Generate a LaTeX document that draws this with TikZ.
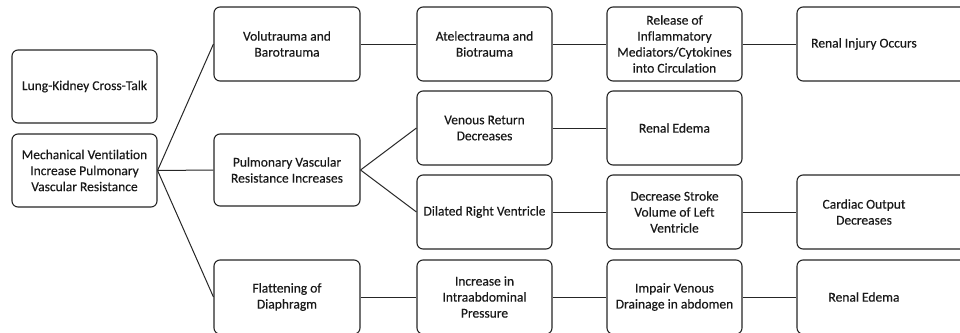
\documentclass[tikz,border=0pt]{standalone}
\usepackage{fontspec}
\setmainfont[FakeBold=0.3,Ligatures=NoCommon]{Carlito}
\begin{document}
\begin{tikzpicture}[x=1pt,y=-1pt,
  box/.style={draw=black!85, line width=1.1pt, rounded corners=6pt, fill=white, inner sep=0pt},
  txt/.style={align=center, font=\fontsize{13.5}{16}\selectfont, text=black!90, inner sep=0pt},
  link/.style={draw=black!85, line width=1pt}]
\useasboundingbox (0,0) rectangle (960,332);
\clip (0,0) rectangle (960,332);
% helper: box from x1 to x2, y1 to y2
\newcommand{\mybox}[6]{%
  \node[box, minimum width=#3-#2, minimum height=#5-#4] (#1) at ({(#2+#3)/2},{(#4+#5)/2}) {};
  \node[txt] (#1t) at ({(#2+#3)/2},{(#4+#5)/2}) {#6};}
\mybox{lk}{12}{157}{50}{123}{Lung-Kidney Cross-Talk}
\mybox{mv}{12}{157}{134}{207}{Mechanical Ventilation\\Increase Pulmonary\\Vascular Resistance}
\mybox{vb}{214}{360}{7}{81}{Volutrauma and\\Barotrauma}
\mybox{pv}{214}{360}{134}{206}{Pulmonary Vascular\\Resistance Increases}
\mybox{fd}{214}{360}{260}{334}{Flattening of\\Diaphragm}
\mybox{ab}{417}{552}{7}{81}{Atelectrauma and\\Biotrauma}
\mybox{vr}{417}{552}{91}{165}{Venous Return\\Decreases}
\mybox{dr}{417}{552}{175}{249}{Dilated Right Ventricle}
\mybox{ii}{417}{552}{260}{334}{Increase in\\Intraabdominal\\Pressure}
\mybox{ri}{607}{742}{7}{81}{Release of\\Inflammatory\\Mediators/Cytokines\\into Circulation}
\mybox{re}{607}{742}{91}{165}{Renal Edema}
\mybox{ds}{607}{742}{175}{249}{Decrease Stroke\\Volume of Left\\Ventricle}
\mybox{iv}{607}{742}{260}{334}{Impair Venous\\Drainage in abdomen}
\node[box, minimum width=178, minimum height=74] (rj) at (886,44) {};
\node[txt] (rjt) at (864,44) {Renal Injury Occurs};
\node[box, minimum width=178, minimum height=74] (co) at (886,212) {};
\node[txt] (cot) at (864,212) {Cardiac Output\\Decreases};
\node[box, minimum width=178, minimum height=74] (r2) at (886,297) {};
\node[txt] (r2t) at (864,297) {Renal Edema};
% connectors
\draw[link] (mv.east) -- (vb.west);
\draw[link] (mv.east) -- (pv.west);
\draw[link] (mv.east) -- (fd.west);
\draw[link] (vb.east) -- (ab.west);
\draw[link] (ab.east) -- (ri.west);
\draw[link] (ri.east) -- (rj.west);
\draw[link] (pv.east) -- (vr.west);
\draw[link] (pv.east) -- (dr.west);
\draw[link] (vr.east) -- (re.west);
\draw[link] (dr.east) -- (ds.west);
\draw[link] (ds.east) -- (co.west);
\draw[link] (fd.east) -- (ii.west);
\draw[link] (ii.east) -- (iv.west);
\draw[link] (iv.east) -- (r2.west);
\end{tikzpicture}
\end{document}
